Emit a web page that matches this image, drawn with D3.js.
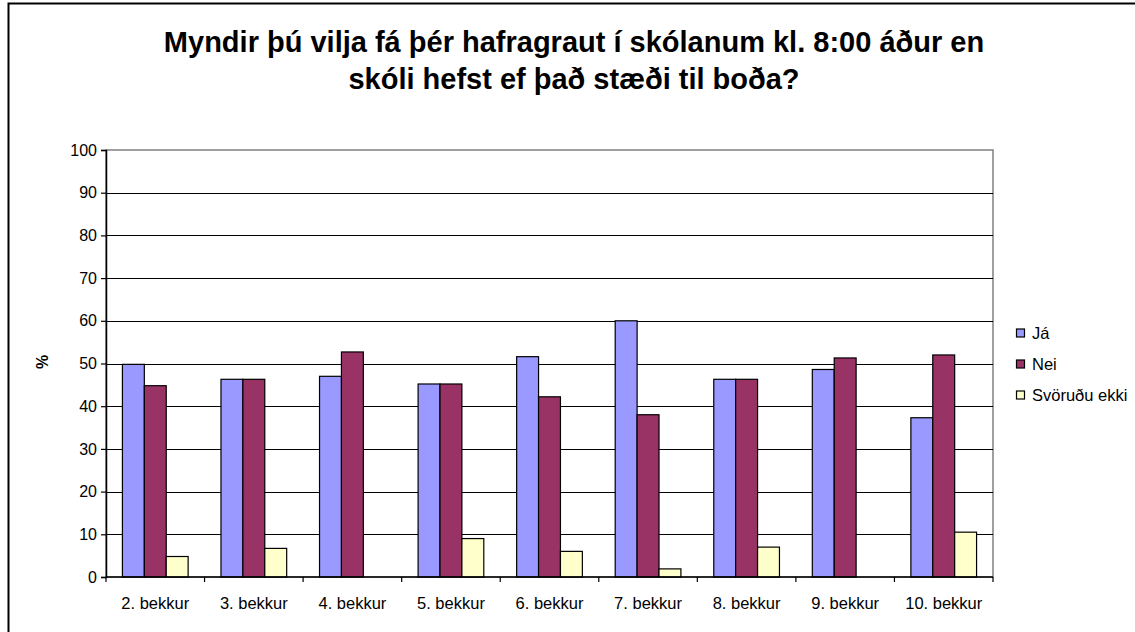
<!DOCTYPE html>
<html><head><meta charset="utf-8">
<script src="https://cdn.jsdelivr.net/npm/d3@7"></script>
<style>body{margin:0;background:#fff}svg{display:block;font-family:Arial,"Liberation Sans",sans-serif}</style>
</head><body>
<svg id="c" width="1135" height="632"></svg>
<script>
const categories = ["2. bekkur","3. bekkur","4. bekkur","5. bekkur","6. bekkur","7. bekkur","8. bekkur","9. bekkur","10. bekkur"];
const seriesNames = ["Já","Nei","Svöruðu ekki"];
const jaValues = [49.8, 46.3, 47.0, 45.2, 51.6, 60.0, 46.3, 48.6, 37.3];
const neiValues = [44.8, 46.3, 52.7, 45.2, 42.2, 38.0, 46.3, 51.3, 52.0];
const svorValues = [4.8, 6.7, 0, 9.0, 6.0, 1.9, 7.0, 0, 10.5];
const yTicks = [0,10,20,30,40,50,60,70,80,90,100];
const colors = ["#9999FF","#993366","#FFFFCC"];
const titleLines = ["Myndir þú vilja fá þér hafragraut í skólanum kl. 8:00 áður en","skóli hefst ef það stæði til boða?"];

const FONT = "Arial, 'Liberation Sans', sans-serif";
const svg = d3.select("#c");
// outer chart border
svg.append("rect").attr("x",8.5).attr("y",3.5).attr("width",1140).attr("height",640)
  .attr("fill","none").attr("stroke","#000").attr("stroke-width",2);

const L=106, R=993, T=150, B=577;
const x = d3.scaleBand().domain(categories).range([L,R]).paddingInner(0).paddingOuter(0);
const y = d3.scaleLinear().domain([0,100]).range([B,T]);

// plot area border (grey)
svg.append("rect").attr("x",L).attr("y",T).attr("width",R-L).attr("height",B-T)
  .attr("fill","none").attr("stroke","#808080").attr("stroke-width",1.5);
// gridlines
svg.append("g").selectAll("line").data(yTicks.filter(d=>d>0&&d<100)).join("line")
  .attr("x1",L).attr("x2",R).attr("y1",d=>Math.round(y(d))+0.5).attr("y2",d=>Math.round(y(d))+0.5)
  .attr("stroke","#000").attr("stroke-width",1.2);

const series = [jaValues, neiValues, svorValues];
const bw = x.bandwidth()/4.5;
const g = svg.append("g");
series.forEach((vals,si)=>{
  g.selectAll(null).data(vals.map((v,i)=>({v,c:categories[i]})).filter(d=>d.v>0)).join("rect")
    .attr("x",d=>x(d.c)+bw*0.75+si*bw)
    .attr("y",d=>y(d.v))
    .attr("width",bw)
    .attr("height",d=>B-y(d.v))
    .attr("fill",colors[si]).attr("stroke","#000").attr("stroke-width",1.2);
});

// y axis
const ya = svg.append("g").attr("transform",`translate(${L},0)`)
  .call(d3.axisLeft(y).tickValues(yTicks).tickSize(5).tickPadding(4));
ya.select(".domain").attr("stroke","#000").attr("stroke-width",1.5);
ya.selectAll(".tick line").attr("stroke","#000").attr("stroke-width",1.2);
ya.selectAll("text").attr("font-size",16).attr("fill","#000").attr("font-family",FONT);

// x axis
const xa = svg.append("g").attr("transform",`translate(0,${B})`)
  .call(d3.axisBottom(x).tickSize(0).tickPadding(20));
xa.select(".domain").remove();
svg.append("line").attr("x1",L).attr("x2",R).attr("y1",B).attr("y2",B).attr("stroke","#000").attr("stroke-width",1.5);
const bounds = categories.map(c=>x(c)).concat([R]);
svg.append("g").selectAll("line").data(bounds).join("line")
  .attr("x1",d=>d).attr("x2",d=>d).attr("y1",B).attr("y2",B+5).attr("stroke","#000").attr("stroke-width",1.2);
xa.selectAll("text").attr("font-size",16.5).attr("fill","#000").attr("font-family",FONT);

// y label
svg.append("text").attr("transform","translate(48,362) rotate(-90)").attr("text-anchor","middle")
  .attr("font-size",16).attr("font-weight","bold").attr("font-family",FONT).text("%");

// title
svg.append("g").selectAll("text").data(titleLines).join("text")
  .attr("x",574).attr("y",(d,i)=>52+i*37).attr("text-anchor","middle")
  .attr("font-size",29).attr("font-weight","bold").attr("font-family",FONT).text(d=>d);

// legend
const lg = svg.append("g").selectAll("g").data(seriesNames).join("g")
  .attr("transform",(d,i)=>`translate(1016.5,${333+i*31})`);
lg.append("rect").attr("x",0).attr("y",-4).attr("width",8).attr("height",8)
  .attr("fill",(d,i)=>colors[i]).attr("stroke","#000").attr("stroke-width",1.2);
lg.append("text").attr("x",15.5).attr("y",6).attr("font-size",16.5).attr("font-family",FONT).text(d=>d);
</script>
</body></html>
